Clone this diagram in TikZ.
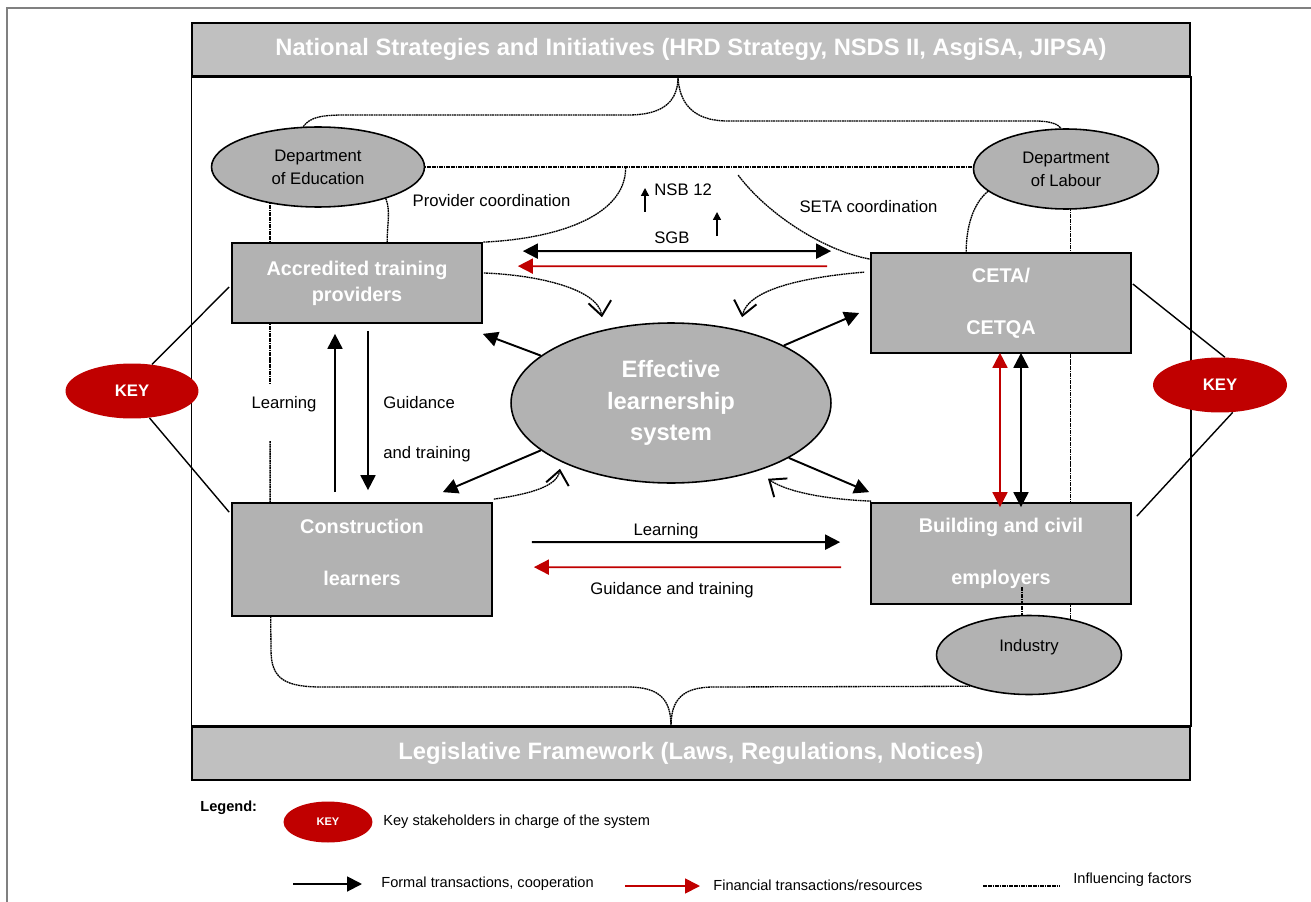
\documentclass[tikz,border=0pt]{standalone}
\usepackage{fontspec}
\setmainfont{Liberation Sans}
\usetikzlibrary{shapes.geometric,arrows.meta,calc,backgrounds}
\definecolor{boxgray}{RGB}{178,178,178}
\definecolor{bangray}{RGB}{192,192,192}
\definecolor{keyred}{RGB}{192,0,0}
\definecolor{framegray}{RGB}{128,128,128}
\begin{document}
\begin{tikzpicture}[x=0.02cm,y=-0.02cm,
  >={Triangle[length=8.5pt,width=8.5pt]},
  banner/.style={draw, line width=0.9pt, fill=bangray, minimum width=19.96cm, minimum height=1.06cm, inner sep=0, text=white, font=\bfseries\fontsize{13.5}{16}\selectfont},
  stbox/.style={draw, line width=1pt, fill=boxgray, inner sep=0, text=white, align=center, font=\bfseries\fontsize{11.3}{14.7}\selectfont},
  oval/.style={ellipse, draw, line width=0.9pt, fill=boxgray, inner sep=0, align=center, font=\fontsize{9.5}{13}\selectfont},
  keyoval/.style={ellipse, fill=keyred, inner sep=0, text=white, font=\bfseries\fontsize{9.5}{11}\selectfont},
  lbl/.style={inner sep=0, font=\fontsize{9.5}{11.5}\selectfont},
  leg/.style={inner sep=0, anchor=west, font=\fontsize{8.3}{10}\selectfont},
  formal/.style={line width=1.1pt, ->},
  finarr/.style={line width=1pt, draw=keyred, ->},
  tinyarr/.style={line width=0.8pt, -{Triangle[length=4.5pt,width=4.5pt]}},
  infl/.style={line width=0.75pt, dash pattern=on 1pt off 0.35pt},
  barb/.style={infl, -{Straight Barb[length=8pt,width=13pt,line width=1.1pt]}},
  keyline/.style={line width=0.8pt}
]
\useasboundingbox (0,0) rectangle (1311,902);

% banners and frame
\node[banner] (top) at (691,49.5) {National Strategies and Initiatives (HRD Strategy, NSDS II, AsgiSA, JIPSA)};
\node[banner] (bot) at (691,753.5) {Legislative Framework (Laws, Regulations, Notices)};
\draw[line width=0.9pt] (top.south west) rectangle (bot.north east);
\draw[framegray, line width=0.6pt] (7,902) -- (7,8) -- (1311,8);

% ellipses
\node[oval, minimum width=4.26cm, minimum height=1.6cm] (dEd) at (318,167) {Department\\of Education};
\node[oval, minimum width=3.7cm, minimum height=1.6cm] (dLab) at (1066,169) {Department\\of Labour};
\node[oval, minimum width=3.7cm, minimum height=1.58cm, text depth=10.5pt] (ind) at (1029,655) {Industry};
\node[oval, minimum width=6.4cm, minimum height=3.2cm, text=white, font=\bfseries\fontsize{13.5}{18}\selectfont] (eff) at (671,403) {Effective\\learnership\\system};
\node[keyoval, minimum width=2.66cm, minimum height=1.1cm] (keyL) at (132,391) {KEY};
\node[keyoval, minimum width=2.68cm, minimum height=1.1cm] (keyR) at (1220,385) {KEY};
\node[keyoval, minimum width=1.78cm, minimum height=0.82cm, font=\bfseries\fontsize{6.3}{8}\selectfont] (keyLeg) at (328,822) {KEY};

% boxes
\node[stbox, minimum width=5cm, minimum height=1.6cm] (acc) at (357,283) {Accredited training\\providers};
\node[stbox, minimum width=5.2cm, minimum height=2.26cm] (con) at (362,559.5) {};
\node[stbox, draw=none, fill=none] (conT) at (362,552.5) {Construction\\[14.7pt]learners};
\node[stbox, minimum width=5.2cm, minimum height=2cm] (ceta) at (1001,303) {CETA/\\[14.7pt]CETQA};
\node[stbox, minimum width=5.2cm, minimum height=2.02cm] (bld) at (1001,553.5) {Building and civil\\[14.7pt]employers};

% labels
\node[lbl] (provc) at (491.5,201) {Provider coordination};
\node[lbl, anchor=west] (nsb) at (654,190) {NSB 12};
\node[lbl, anchor=west] (sgb) at (654,238) {SGB};
\node[lbl] (setac) at (868.5,207) {SETA coordination};
\node[lbl] (learnV) at (284,404) {Learning};
\node[lbl, anchor=west, align=left] (guidV) at (383,429) {Guidance\\[17pt]and training};
\node[lbl] (learnH) at (666,531) {Learning};
\node[lbl] (guidH) at (672,590) {Guidance and training};

% legend
\node[leg, font=\bfseries\fontsize{8.3}{10}\selectfont] (legT) at (200,808) {Legend:};
\node[leg] (legK) at (383,822) {Key stakeholders in charge of the system};
\node[leg] (legF) at (381,884) {Formal transactions, cooperation};
\node[leg] (legR) at (713,885) {Financial transactions/resources};
\node[leg] (legI) at (1073,880) {Influencing factors};

\coordinate (ttip) at ($(top.south)+(-13,0)$);
\coordinate (btip) at ($(bot.north)+(-20,0)$);

% background lines (hidden under fills)
\begin{scope}[on background layer]
\fill[white] (0,0) rectangle (1311,902);
\coordinate (lx) at ($(acc.north west)+(39,0)$);
\coordinate (rx) at ($(ceta.north west)+(200,0)$);
\coordinate (lgap1) at ($(acc.south west)+(39,60)$);
\coordinate (lgap2) at ($(con.north west)+(39,-61)$);
\draw[infl] (dEd.center) -- (dEd.center -| dLab.center);
\draw[infl] (lx |- dEd.center) -- (lx |- acc.center) -- (lgap1);
\draw[infl] (lgap2) -- (lx |- con.center) -- (271,650) .. controls (271,679) and (285,687) .. (322,687) -- (628,687) .. controls (660,687) and (671,700) .. (btip);
\draw[infl] (btip) .. controls (671,700) and (682,687) .. (714,687) -- (ind.-152);
\draw[infl] (rx |- dLab.center) -- (rx |- ind.center);
\end{scope}

% top brace
\draw[infl] (dEd.110) .. controls (310,117) and (322,115) .. (345,115) -- (628,115) .. controls (665,115) and (678,100) .. (ttip);
\draw[infl] (ttip) .. controls (679,100) and (690,121) .. (728,121) -- (1035,121) .. controls (1050,121) and (1058,124) .. (dLab.97);

% influence curves
\draw[infl] (dEd.-25) .. controls +(5,12) and +(0,-18) .. ($(acc.north west)+(156,0)$);
\coordinate (pcs) at ($(dEd.east)!0.366!(dLab.west)$);
\draw[infl] (pcs) .. controls +(0,50) and +(70,-3) .. (acc.north east);
\coordinate (scs) at ($(ceta.north west)+(-132,-77)$);
\draw[infl] (scs) .. controls +(30,40) and +(-45,-8) .. ($(ceta.north west)+(0,7)$);
\draw[infl] (dLab.-164) .. controls +(-15,12) and +(0,-25) .. ($(ceta.north west)+(96,0)$);
\draw[infl] ($(bld.south)+(21,-18)$) -- ($(ind.north)+(-7,0)$);

% barbed influence curves to the system
\draw[barb] ($(acc.east)+(1,-10)$) .. controls +(55,2) and +(-4,-28) .. ($(eff.north)+(-69,-5)$);
\draw[barb] ($(ceta.north west)+(-6,20)$) .. controls +(-60,5) and +(6,-28) .. ($(eff.north)+(71,-5)$);
\draw[barb] ($(con.north east)+(1,-3)$) .. controls +(35,-5) and +(-3,18) .. ($(eff.south)+(-111,-15)$);
\draw[barb] ($(bld.north west)+(1,-1)$) .. controls +(-50,-2) and +(17,12) .. ($(eff.south)+(97,-5)$);

% KEY lines
\draw[keyline] (keyL.53) -- ($(acc.west)+(-2,4)$);
\draw[keyline] (keyL.-57) -- ($(con.north west)+(-2,10)$);
\draw[keyline] (keyR.80) -- ($(ceta.east)+(1,-19)$);
\draw[keyline] (keyR.-65) -- ($(bld.north east)+(5,14)$);

% formal arrows from system
\draw[formal] (eff.160) -- ($(acc.south east)+(0,10)$);
\draw[formal] (eff.27) -- ($(ceta.west)+(-11,10)$);
\draw[formal] (eff.200) -- ($(con.north east)+(-50,-10)$);
\draw[formal] (eff.-25) -- ($(bld.north west)+(-1,-10)$);

% providers <-> learners
\draw[formal] ($(con.north)+(-27,-10)$) -- ($(acc.south)+(-22,10)$);
\draw[formal] ($(acc.south)+(11,7)$) -- ($(con.north)+(6,-12)$);

% providers <-> CETA
\draw[formal, <->] ($(acc.north east)+(40,9)$) -- ($(ceta.north west)+(-39,-1)$);
\draw[finarr] ($(ceta.north west)+(-43,14)$) -- ($(acc.north east)+(35,24)$);

% learners <-> employers
\draw[formal] ($(con.north east)+(39,40)$) -- ($(bld.north west)+(-30,40)$);
\draw[finarr] ($(bld.north west)+(-29,65)$) -- ($(con.north east)+(41,65)$);

% CETA <-> employers
\draw[finarr, <->] ($(ceta.south)+(-1,-1)$) -- ($(bld.north)+(-1,5)$);
\draw[formal, <->] ($(ceta.south)+(20,-1)$) -- ($(bld.north)+(20,5)$);

% NSB / SGB small arrows
\draw[tinyarr] ($(nsb.west)+(-9,22)$) -- ($(nsb.west)+(-9,-2)$);
\draw[tinyarr] ($(sgb.west)+(63,-2)$) -- ($(sgb.west)+(63,-26)$);

% legend lines
\draw[formal] ($(legF.west)+(-88,0)$) -- ($(legF.west)+(-19,0)$);
\draw[finarr] ($(legR.west)+(-88,1)$) -- ($(legR.west)+(-13,1)$);
\draw[infl] ($(legI.west)+(-90,6)$) -- ($(legI.west)+(-14,6)$);
\end{tikzpicture}
\end{document}
